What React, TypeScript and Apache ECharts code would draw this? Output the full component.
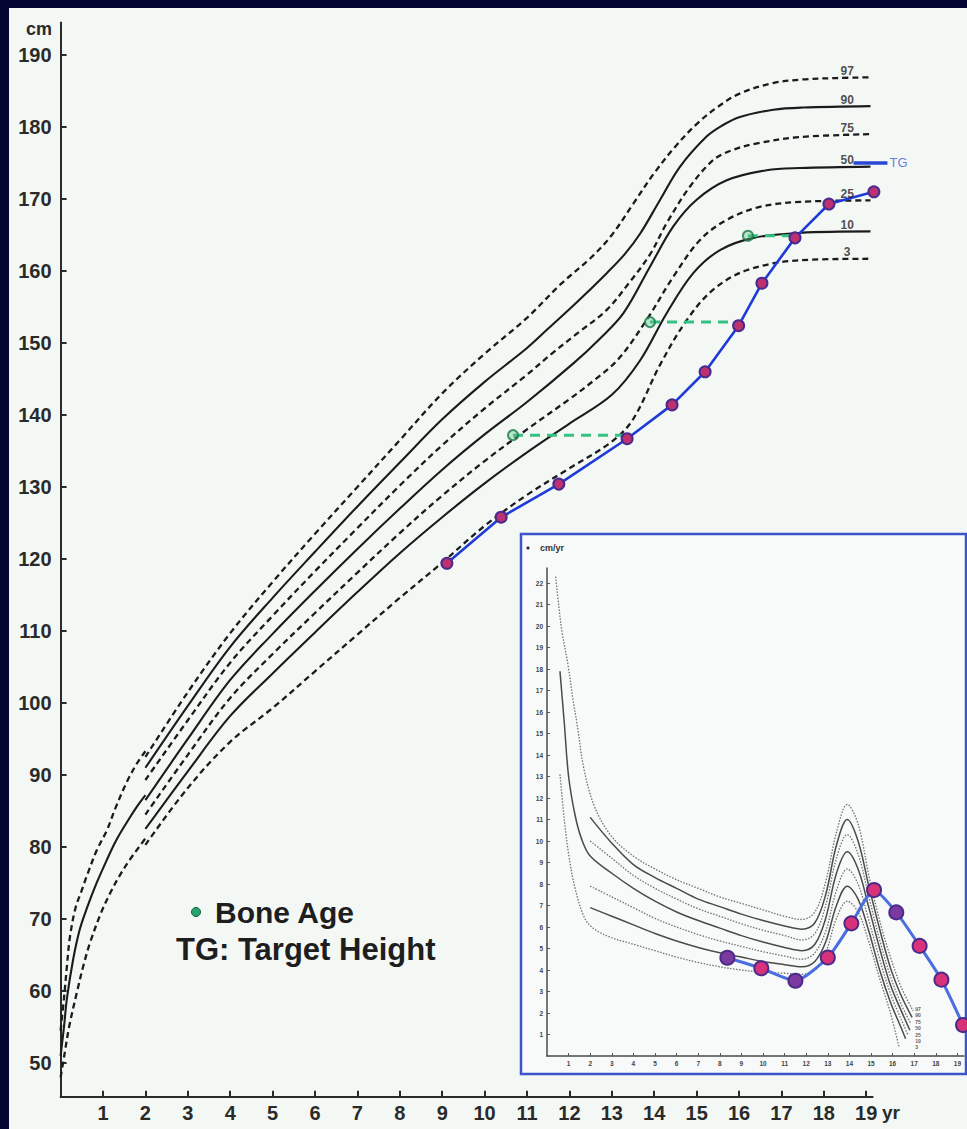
import React, { useEffect, useRef } from "react";
import * as echarts from "echarts";

// ---------- axis ticks ----------
const xTickValues = [1, 2, 3, 4, 5, 6, 7, 8, 9, 10, 11, 12, 13, 14, 15, 16, 17, 18, 19];
const yTickValues = [50, 60, 70, 80, 90, 100, 110, 120, 130, 140, 150, 160, 170, 180, 190];
const insetXTickValues = [1, 2, 3, 4, 5, 6, 7, 8, 9, 10, 11, 12, 13, 14, 15, 16, 17, 18, 19];
const insetYTickValues = [1, 2, 3, 4, 5, 6, 7, 8, 9, 10, 11, 12, 13, 14, 15, 16, 17, 18, 19, 20, 21, 22];

// ---------- height percentiles (age yr, height cm) ----------
const infantP97 = [[0, 54.5], [0.08, 59], [0.15, 63.5], [0.22, 67.5], [0.35, 71.5], [0.5, 74], [0.62, 76], [0.85, 79.5], [1.09, 82.3], [1.3, 85.5], [1.56, 89], [1.8, 91.6], [2, 93.3]];
const infantP50 = [[0, 51], [0.08, 55], [0.15, 59], [0.3, 64.5], [0.45, 68.5], [0.62, 71.5], [0.85, 75], [1.09, 78.2], [1.3, 80.8], [1.56, 83.4], [1.8, 85.6], [2, 87.2]];
const infantP3 = [[0, 48], [0.1, 51.5], [0.2, 55], [0.38, 59.7], [0.55, 63.8], [0.7, 66.8], [0.95, 70.8], [1.17, 73.6], [1.4, 76.1], [1.64, 78.3], [1.85, 80], [2, 81.2]];

const heightP97 = [[2, 92.5], [3, 101.5], [4, 109.7], [5, 116.8], [6, 123.5], [7, 130], [8, 136.5], [9, 143], [10, 148.5], [11, 153.5], [11.8, 158.2], [12.5, 161.8], [13, 165], [13.5, 169.3], [14, 173.6], [14.5, 177.3], [15, 180.4], [15.5, 182.8], [16, 184.6], [16.8, 186.1], [17.5, 186.6], [18.3, 186.8], [19.1, 186.9]];
const heightP90 = [[2, 91], [3, 99.6], [4, 107.8], [5, 114.6], [6, 121], [7, 127.3], [8, 133.4], [9, 139.4], [10, 144.6], [11, 149.3], [11.5, 152], [12.2, 155.8], [12.88, 159.7], [13.3, 162.3], [13.67, 165.2], [14.14, 169.9], [14.61, 174.5], [15.24, 178.7], [15.6, 180.2], [16.02, 181.4], [16.81, 182.4], [17.5, 182.7], [19.1, 182.9]];
const heightP75 = [[2, 89.3], [3, 97.6], [4, 105.6], [5, 112.1], [6, 118.3], [7, 124.3], [8, 130.2], [9, 135.8], [10, 140.9], [11, 145.6], [11.6, 148.6], [12.2, 151.4], [12.88, 154.6], [13.4, 158.3], [13.9, 162.3], [14.29, 166.6], [14.84, 171.7], [15.39, 175.4], [15.8, 176.7], [16.4, 177.7], [17.44, 178.6], [19.1, 179]];
const heightP50 = [[2, 86.5], [3, 95], [4, 103.2], [5, 109.6], [6, 115.6], [7, 121.4], [8, 127], [9, 132.4], [10, 137.3], [11, 141.8], [12.1, 147.2], [12.7, 150.5], [13.27, 154.1], [13.9, 160.6], [14.45, 166.2], [15, 169.9], [15.71, 172.6], [16.65, 174], [17.44, 174.3], [19.1, 174.5]];
const heightP25 = [[2, 84.5], [3, 92.8], [4, 100.7], [5, 106.8], [6, 112.5], [7, 118.1], [8, 123.6], [9, 128.8], [10, 133.6], [11, 138], [12, 142.2], [12.6, 144.9], [13.16, 147.8], [13.82, 153.2], [14.45, 159.2], [15.08, 164.3], [15.71, 167.1], [16.49, 168.9], [17.44, 169.6], [19.1, 169.8]];
const heightP10 = [[2, 82.5], [3, 90.5], [4, 98.2], [5, 104.1], [6, 109.8], [7, 115.4], [8, 120.8], [9, 125.8], [10, 130.5], [11, 134.8], [12, 138.8], [13, 142.8], [13.67, 147.6], [14.29, 154.1], [14.92, 159.7], [15.55, 162.9], [16.34, 164.6], [17.44, 165.3], [19.1, 165.5]];
const heightP3 = [[2, 80.3], [3, 88.2], [4, 94.6], [5, 99.3], [6, 104.4], [7, 109.5], [8, 114.6], [9, 119.5], [10, 124.6], [11, 128.9], [12, 132.6], [13, 136.3], [13.5, 139.4], [14.14, 147], [14.77, 153.2], [15.39, 157.4], [16.18, 160.1], [17.44, 161.5], [19.1, 161.7]];

const percentileNames = ["97", "90", "75", "50", "25", "10", "3"];
const percentileEndHeights = [186.8, 182.8, 178.9, 174.4, 169.7, 165.4, 161.6];
const percentileLabelAge = 18.55;

// ---------- patient ----------
const patientAges = [9.11, 10.39, 11.75, 13.36, 14.42, 15.2, 15.99, 16.54, 17.32, 18.12, 19.18];
const patientHeights = [119.4, 125.8, 130.4, 136.7, 141.4, 146.0, 152.4, 158.3, 164.6, 169.3, 171.0];
const boneAges = [10.67, 13.9, 16.21];
const boneAgeHeights = [137.2, 152.9, 164.9];
const boneAgeLinkEnds = [13.3, 15.95, 17.25];
const targetHeightValue = 175.0;
const targetHeightAges = [18.7, 19.5];

// ---------- velocity inset (age yr, cm/yr) ----------
const velP97 = [[0.4, 22.3], [0.55, 20.9], [0.7, 19.7], [0.97, 18.2], [1.2, 16.6], [1.43, 15.2], [1.7, 13.4], [2.2, 11.6], [3, 10.2], [4, 9.3], [5, 8.7], [6, 8.2], [7, 7.8], [8, 7.4], [9, 7.1], [10, 6.8], [11, 6.5], [11.8, 6.35], [12.4, 6.7], [12.9, 8.1], [13.4, 10.4], [13.9, 11.7], [14.4, 10.8], [14.9, 8.4], [15.4, 6.3], [15.9, 4.6], [16.4, 3.2], [16.95, 2.1]];
const velP90 = [[2, 11.1], [3, 9.9], [4, 8.9], [5, 8.3], [6, 7.8], [7, 7.3], [8, 6.95], [9, 6.6], [10, 6.3], [11, 6.05], [11.8, 5.9], [12.4, 6.2], [12.9, 7.5], [13.4, 9.8], [13.9, 11.0], [14.4, 10.0], [14.9, 7.9], [15.4, 5.9], [15.9, 4.1], [16.4, 2.8], [16.9, 1.8]];
const velP75 = [[2, 10.0], [3, 9.2], [4, 8.4], [5, 7.8], [6, 7.3], [7, 6.85], [8, 6.5], [9, 6.15], [10, 5.85], [11, 5.6], [11.8, 5.4], [12.4, 5.7], [12.9, 7.0], [13.4, 9.2], [13.9, 10.3], [14.4, 9.4], [14.9, 7.4], [15.4, 5.4], [15.9, 3.7], [16.4, 2.4], [16.85, 1.5]];
const velP50 = [[0.6, 17.9], [0.8, 15.5], [1.0, 13.0], [1.3, 11.2], [1.6, 10.1], [2, 9.3], [3, 8.5], [4, 7.8], [5, 7.2], [6, 6.7], [7, 6.3], [8, 5.95], [9, 5.6], [10, 5.3], [11, 5.05], [11.8, 4.9], [12.4, 5.2], [12.9, 6.4], [13.4, 8.5], [13.9, 9.5], [14.4, 8.7], [14.9, 6.9], [15.4, 5.0], [15.9, 3.3], [16.4, 2.1], [16.8, 1.2]];
const velP25 = [[2, 7.9], [3, 7.4], [4, 6.9], [5, 6.4], [6, 6.0], [7, 5.65], [8, 5.35], [9, 5.1], [10, 4.85], [11, 4.65], [11.8, 4.5], [12.4, 4.8], [12.9, 5.8], [13.4, 7.7], [13.9, 8.7], [14.4, 8.0], [14.9, 6.3], [15.4, 4.5], [15.9, 2.9], [16.4, 1.7], [16.7, 1.0]];
const velP10 = [[2, 6.9], [3, 6.5], [4, 6.1], [5, 5.7], [6, 5.35], [7, 5.05], [8, 4.8], [9, 4.6], [10, 4.4], [11, 4.25], [11.8, 4.15], [12.4, 4.4], [12.9, 5.3], [13.4, 7.0], [13.9, 7.9], [14.4, 7.3], [14.9, 5.8], [15.4, 4.0], [15.9, 2.5], [16.4, 1.3], [16.6, 0.8]];
const velP3 = [[0.6, 13.1], [0.8, 11.0], [1.0, 9.4], [1.3, 7.8], [1.75, 6.4], [2.2, 5.9], [3, 5.5], [4, 5.2], [5, 4.9], [6, 4.6], [7, 4.35], [8, 4.15], [9, 4.0], [10, 3.9], [11, 3.85], [11.8, 3.8], [12.4, 4.0], [12.9, 4.8], [13.4, 6.4], [13.9, 7.2], [14.4, 6.7], [14.9, 5.3], [15.4, 3.6], [15.9, 2.0], [16.3, 0.4]];
const insetLabelAge = 17.05;
const insetLabelValues = [2.2, 1.9, 1.6, 1.3, 1.0, 0.7, 0.4];

const velocityAges = [8.35, 9.92, 11.5, 13.0, 14.09, 15.14, 16.17, 17.25, 18.26, 19.26];
const velocityValues = [4.57, 4.08, 3.5, 4.58, 6.17, 7.72, 6.68, 5.12, 3.55, 1.44];
const velocityTones = ["purple", "pink", "purple", "pink", "pink", "pink", "purple", "pink", "pink", "pink"];

const SANS = '"Liberation Sans", Arial, sans-serif';

function mainLine(data: number[][], dashed: boolean) {
  return {
    type: "line",
    xAxisIndex: 0,
    yAxisIndex: 0,
    data,
    smooth: 0.35,
    symbol: "none",
    silent: true,
    z: 2,
    lineStyle: { color: "#1b1b1b", width: dashed ? 2.3 : 2.1, type: dashed ? [6, 4] : "solid" },
  };
}

function insetLine(data: number[][], dashed: boolean) {
  return {
    type: "line",
    xAxisIndex: 1,
    yAxisIndex: 1,
    data,
    smooth: 0.35,
    symbol: "none",
    silent: true,
    z: 2,
    lineStyle: { color: dashed ? "#707070" : "#4a4a4a", width: dashed ? 1.3 : 1.5, type: dashed ? [1.5, 1.5] : "solid" },
  };
}

export default function App() {
  const ref = useRef<HTMLDivElement>(null);

  useEffect(() => {
    if (!ref.current) return;
    const chart = echarts.init(ref.current, undefined, { renderer: "svg" });

    const patientData = patientAges.map((a, i) => [a, patientHeights[i]]);
    const boneData = boneAges.map((a, i) => [a, boneAgeHeights[i]]);
    const linkSeries = boneAges.map((a, i) => ({
      type: "line",
      xAxisIndex: 0,
      yAxisIndex: 0,
      data: [[a, boneAgeHeights[i]], [boneAgeLinkEnds[i], boneAgeHeights[i]]],
      symbol: "none",
      silent: true,
      z: 3,
      lineStyle: { color: "#33c283", width: 3, type: [10, 7] },
    }));
    const labelData = percentileNames.map((n, i) => [percentileLabelAge, percentileEndHeights[i], n]);
    const insetLabelData = percentileNames.map((n, i) => [insetLabelAge, insetLabelValues[i], n]);
    const tgData = targetHeightAges.map((a) => [a, targetHeightValue]);
    const velData = velocityAges.map((a, i) => ({
      value: [a, velocityValues[i]],
      itemStyle: {
        color: velocityTones[i] === "purple" ? "#7b3aa0" : "#d8327a",
        borderColor: "#4d2a8a",
        borderWidth: 2,
      },
    }));

    const baseGraphic: any[] = [
      { id: "panel", type: "rect", z: -10, silent: true, shape: { x: 9, y: 8, width: 958, height: 1121 }, style: { fill: "#f4f8f5" } },
      { id: "insetBox", type: "rect", z: -5, silent: true, shape: { x: 521, y: 534, width: 445, height: 540 }, style: { fill: "#f7faf8", stroke: "#3d55cc", lineWidth: 2.5 } },
      { id: "cm", type: "text", z: 10, silent: true, x: 26, y: 20, style: { text: "cm", fontSize: 18, fontWeight: "bold", fontFamily: SANS, fill: "#2a2a2a" } },
      { id: "yr", type: "text", z: 10, silent: true, x: 882, y: 1103, style: { text: "yr", fontSize: 19, fontWeight: "bold", fontFamily: SANS, fill: "#2a2a2a" } },
      { id: "insetDot", type: "circle", z: 10, silent: true, shape: { cx: 528, cy: 548, r: 1.6 }, style: { fill: "#333" } },
      { id: "cmyr", type: "text", z: 10, silent: true, x: 540, y: 543, style: { text: "cm/yr", fontSize: 9, fontWeight: "bold", fontFamily: SANS, fill: "#333" } },
      { id: "legDot", type: "circle", z: 10, silent: true, shape: { cx: 196, cy: 912, r: 4.5 }, style: { fill: "#26a36e", stroke: "#0f5f3d", lineWidth: 1 } },
      { id: "legBone", type: "text", z: 10, silent: true, x: 215, y: 912, style: { text: "Bone Age", fontSize: 30, fontWeight: "bold", fontFamily: SANS, fill: "#1e1e1e", verticalAlign: "middle" } },
      { id: "legTG", type: "text", z: 10, silent: true, x: 176, y: 949, style: { text: "TG: Target Height", fontSize: 31, fontWeight: "bold", fontFamily: SANS, fill: "#1e1e1e", verticalAlign: "middle" } },
    ];

    const option: any = {
      animation: false,
      backgroundColor: "#050533",
      grid: [
        { left: 60.6, right: 94.4, top: 22.6, bottom: 32.2 },
        { left: 547, right: 3.1, top: 568, bottom: 73 },
      ],
      xAxis: [
        {
          type: "value",
          gridIndex: 0,
          min: 0,
          max: 19.15,
          splitLine: { show: false },
          axisLine: { show: true, onZero: false, lineStyle: { color: "#2a2a2a", width: 2 } },
          axisTick: { show: true, inside: true, length: 6, customValues: xTickValues, lineStyle: { color: "#2a2a2a", width: 2 } },
          axisLabel: { customValues: xTickValues, margin: 6, fontSize: 20, fontWeight: "bold", fontFamily: SANS, color: "#2a2a2a" },
        },
        {
          type: "value",
          gridIndex: 1,
          min: 0,
          max: 19.3,
          splitLine: { show: false },
          axisLine: { show: true, onZero: false, lineStyle: { color: "#4a4a4a", width: 1.5 } },
          axisTick: { show: true, inside: true, length: 3, customValues: insetXTickValues, lineStyle: { color: "#555", width: 1 } },
          axisLabel: { customValues: insetXTickValues, margin: 4, fontSize: 6.5, fontWeight: "bold", fontFamily: SANS, color: "#444" },
        },
      ],
      yAxis: [
        {
          type: "value",
          gridIndex: 0,
          min: 45.3,
          max: 194.5,
          splitLine: { show: false },
          axisLine: { show: true, onZero: false, lineStyle: { color: "#2a2a2a", width: 2 } },
          axisTick: { show: true, inside: true, length: 6, customValues: yTickValues, lineStyle: { color: "#2a2a2a", width: 2 } },
          axisLabel: { customValues: yTickValues, margin: 9, fontSize: 20, fontWeight: "bold", fontFamily: SANS, color: "#2a2a2a" },
        },
        {
          type: "value",
          gridIndex: 1,
          min: 0,
          max: 22.7,
          splitLine: { show: false },
          axisLine: { show: true, onZero: false, lineStyle: { color: "#4a4a4a", width: 1.5 } },
          axisTick: { show: true, inside: true, length: 3, customValues: insetYTickValues, lineStyle: { color: "#555", width: 1 } },
          axisLabel: { customValues: insetYTickValues, margin: 4, fontSize: 6.5, fontWeight: "bold", fontFamily: SANS, color: "#444" },
        },
      ],
      graphic: { elements: baseGraphic },
      series: [
        mainLine(infantP97, true),
        mainLine(infantP50, false),
        mainLine(infantP3, true),
        mainLine(heightP97, true),
        mainLine(heightP90, false),
        mainLine(heightP75, true),
        mainLine(heightP50, false),
        mainLine(heightP25, true),
        mainLine(heightP10, false),
        mainLine(heightP3, true),
        {
          type: "scatter",
          xAxisIndex: 0,
          yAxisIndex: 0,
          data: labelData,
          symbolSize: 0,
          silent: true,
          z: 6,
          label: {
            show: true,
            position: "top",
            distance: 1,
            formatter: (p: any) => p.data[2],
            fontSize: 12,
            fontWeight: "bold",
            fontFamily: SANS,
            color: "#222",
          },
        },
        ...linkSeries,
        {
          type: "scatter",
          xAxisIndex: 0,
          yAxisIndex: 0,
          data: [tgData[tgData.length - 1]],
          symbolSize: 0,
          silent: true,
          clip: false,
          z: 6,
          label: { show: true, position: "right", distance: 2, formatter: "TG", color: "#3b5be0", fontSize: 13, fontFamily: SANS },
        },
        {
          type: "line",
          xAxisIndex: 0,
          yAxisIndex: 0,
          data: patientData,
          clip: false,
          symbol: "circle",
          symbolSize: 11,
          silent: true,
          z: 5,
          lineStyle: { color: "#1f3ad6", width: 2.6 },
          itemStyle: { color: "#bd3170", borderColor: "#4a2a8f", borderWidth: 2 },
        },
        {
          type: "scatter",
          xAxisIndex: 0,
          yAxisIndex: 0,
          data: boneData,
          symbol: "circle",
          symbolSize: 10,
          silent: true,
          z: 6,
          itemStyle: { color: "rgba(90,190,130,0.45)", borderColor: "#1c7a48", borderWidth: 2 },
        },
        insetLine(velP97, true),
        insetLine(velP90, false),
        insetLine(velP75, true),
        insetLine(velP50, false),
        insetLine(velP25, true),
        insetLine(velP10, false),
        insetLine(velP3, true),
        {
          type: "scatter",
          xAxisIndex: 1,
          yAxisIndex: 1,
          data: insetLabelData,
          symbolSize: 0,
          silent: true,
          z: 4,
          label: {
            show: true,
            position: "right",
            distance: 0,
            formatter: (p: any) => p.data[2],
            fontSize: 5,
            fontWeight: "bold",
            fontFamily: SANS,
            color: "#333",
          },
        },
        {
          type: "line",
          xAxisIndex: 1,
          yAxisIndex: 1,
          data: velData,
          smooth: 0.2,
          clip: false,
          symbol: "circle",
          symbolSize: 14,
          silent: true,
          z: 5,
          lineStyle: { color: "#4a6de0", width: 3 },
        },
      ],
    };

    chart.setOption(option);

    // Target-height segment, positioned through the chart's own scale (extends past the axis end)
    const p1 = chart.convertToPixel({ gridIndex: 0 }, tgData[0]) as number[];
    const p2 = chart.convertToPixel({ gridIndex: 0 }, tgData[1]) as number[];
    chart.setOption({
      graphic: {
        elements: [
          ...baseGraphic,
          {
            id: "tgLine",
            type: "line",
            z: 4,
            silent: true,
            shape: { x1: p1[0], y1: p1[1], x2: p2[0], y2: p2[1] },
            style: { stroke: "#2a46d6", lineWidth: 3.5 },
          },
        ],
      },
    });

    return () => chart.dispose();
  }, []);

  return (
    <div
      ref={ref}
      style={{ position: "absolute", left: 0, top: 0, width: 967, height: 1129 }}
    />
  );
}
